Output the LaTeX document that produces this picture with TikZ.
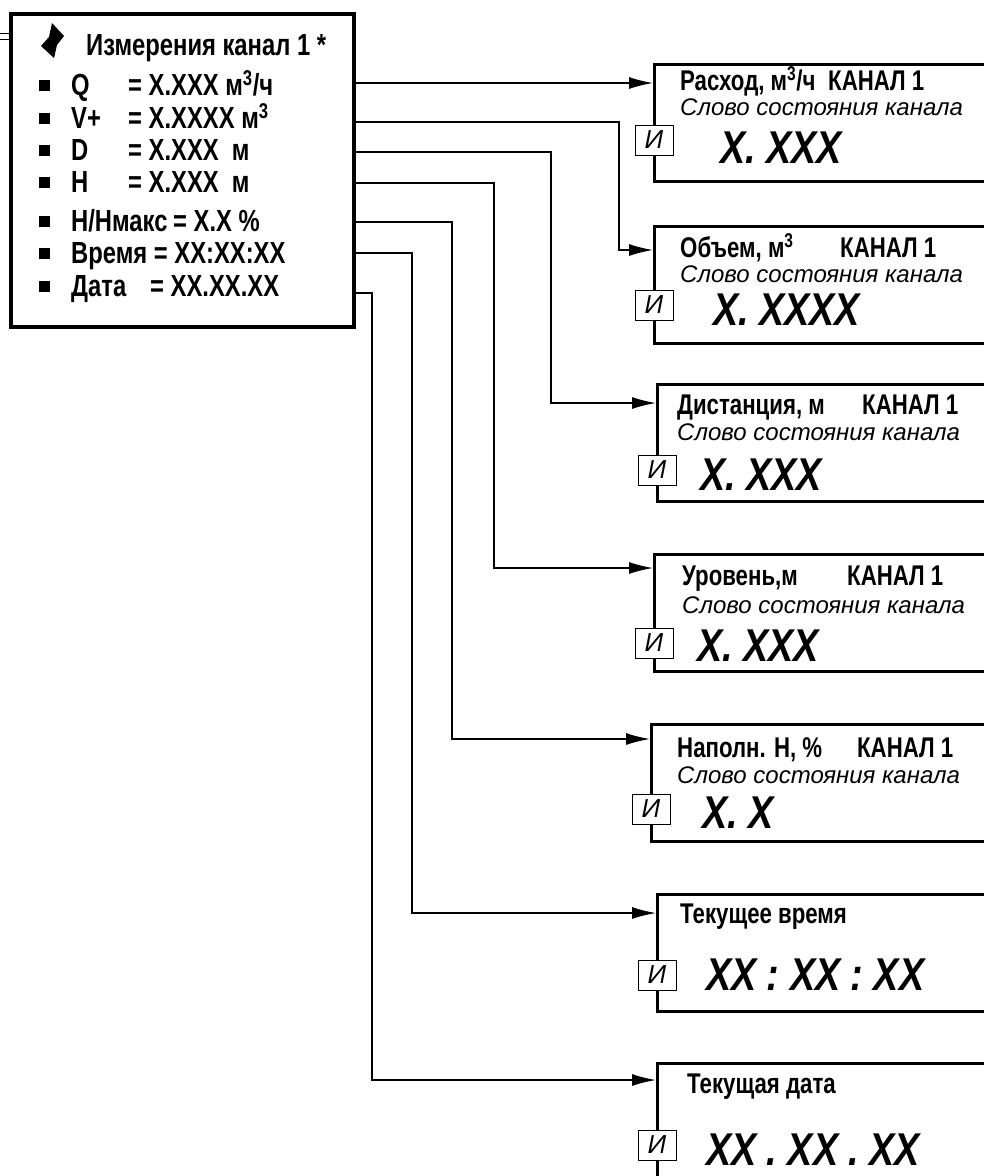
\documentclass[tikz,border=0pt]{standalone}
\usepackage{fontspec}
\setmainfont{Liberation Sans}
\newfontfamily\narrowfont{Liberation Sans}[FakeStretch=0.78]
\newfontfamily\valuefont{Liberation Sans}[FakeStretch=0.82]
\usetikzlibrary{arrows.meta,positioning}

\begin{document}
\begin{tikzpicture}[
    x=1pt, y=-1pt,
    menubox/.style={draw, line width=4pt, anchor=north west, minimum width=343pt, minimum height=313pt, inner sep=0pt},
    dispbox/.style={draw, line width=3pt, anchor=north west, minimum width=420pt, minimum height=117pt, inner sep=0pt},
    rowtext/.style={anchor=base west, inner sep=0pt, font=\narrowfont\bfseries\fontsize{30.5}{34}\selectfont},
    bullet/.style={fill, minimum size=11pt, inner sep=0pt},
    head/.style={anchor=base west, inner sep=0pt, font=\narrowfont\bfseries\fontsize{28.5}{32}\selectfont},
    status/.style={anchor=base west, inner sep=0pt, font=\itshape\fontsize{24}{28}\selectfont},
    value/.style={anchor=base west, inner sep=0pt, font=\valuefont\bfseries\itshape\fontsize{46}{50}\selectfont},
    ibox/.style={draw, fill=white, line width=1pt, minimum width=38pt, minimum height=30pt, inner sep=0pt, font=\itshape\fontsize{26}{30}\selectfont},
    arrow/.style={-{Latex[length=24pt,width=12pt]}, line width=1.5pt}
]
\clip (0,0) rectangle (984,1176);

% menu screen
\node[menubox] (menu) at (9,12) {};
\draw[line width=1pt] ([yshift=-21]menu.north west) -- ++(-15,0)
                      ([yshift=-27]menu.north west) -- ++(-15,0);
\fill (52,23) -- (64,36) -- (57,45) -- (54,58) -- (41,46) -- (49,37) -- cycle;
\node[rowtext] (title) at (86,55) {Измерения канал 1 *};
\node[rowtext] (rq) at (71,95) {\makebox[57pt][l]{Q}= X.XXX м\textsuperscript{3}/ч};
\node[rowtext] (rv) at (71,128) {\makebox[57pt][l]{V+}= X.XXXX м\textsuperscript{3}};
\node[rowtext] (rd) at (71,160) {\makebox[57pt][l]{D}= X.XXX\ \ м};
\node[rowtext] (rh) at (71,192) {\makebox[57pt][l]{H}= X.XXX\ \ м};
\node[rowtext] (rhh) at (71,231) {\makebox[102pt][l]{H/Hмакс}= X.X \%};
\node[rowtext] (rtime) at (71,263) {Время = XX:XX:XX};
\node[rowtext] (rdate) at (71,296) {\makebox[79pt][l]{Дата}= XX.XX.XX};
\foreach \r in {rq,rv,rd,rh,rhh,rtime,rdate}
    \node[bullet] (b\r) at ([xshift=-27pt, yshift=9.5pt]\r.base west) {};

% display screens
\node[dispbox] (dq) at (653,63) {};
\node[head] (dqh) at (680,90) {\makebox[148pt][l]{Расход, м\textsuperscript{3}/ч}КАНАЛ 1};
\node[status] (dqs) at (680,115) {Слово состояния канала};
\node[ibox] (dqi) at (654,140) {И};
\node[value] (dqv) at (720,163) {X. XXX};

\node[dispbox] (dv) at (653,225) {};
\node[head] (dvh) at (680,257) {\makebox[160pt][l]{Объем, м\textsuperscript{3}}КАНАЛ 1};
\node[status] (dvs) at (680,282) {Слово состояния канала};
\node[ibox] (dvi) at (654,305) {И};
\node[value] (dvv) at (713,325) {X. XXXX};

\node[dispbox] (dd) at (656,383) {};
\node[head] (ddh) at (677,414) {\makebox[185pt][l]{Дистанция, м}КАНАЛ 1};
\node[status] (dds) at (677,440) {Слово состояния канала};
\node[ibox] (ddi) at (657,470) {И};
\node[value] (ddv) at (700,490) {X. XXX};

\node[dispbox] (dh) at (653,553) {};
\node[head] (dhh) at (682,585) {\makebox[165pt][l]{Уровень,м}КАНАЛ 1};
\node[status] (dhs) at (682,613) {Слово состояния канала};
\node[ibox] (dhi) at (654,643) {И};
\node[value] (dhv) at (697,661) {X. XXX};

\node[dispbox] (dp) at (650,723) {};
\node[head] (dph) at (677,757) {\makebox[180pt][l]{Наполн. Н, \%}КАНАЛ 1};
\node[status] (dps) at (677,783) {Слово состояния канала};
\node[ibox] (dpi) at (651,809) {И};
\node[value] (dpv) at (702,828) {X. X};

\node[dispbox] (dtime) at (656,893) {};
\node[head] (dtimeh) at (680,923) {Текущее время};
\node[ibox] (dtimei) at (657,975) {И};
\node[value] (dtimev) at (706,990) {XX : XX : XX};

\node[dispbox] (ddate) at (656,1062) {};
\node[head] (ddateh) at (687,1093) {Текущая дата};
\node[ibox] (ddatei) at (657,1145) {И};
\node[value] (ddatev) at (706,1165) {XX . XX . XX};

% inputs of the screens
\coordinate (qin) at ([yshift=-20]dq.north west);
\coordinate (vin) at ([yshift=-25]dv.north west);
\coordinate (din) at ([yshift=-20]dd.north west);
\coordinate (hin) at ([yshift=-15]dh.north west);
\coordinate (pin) at ([yshift=-16]dp.north west);
\coordinate (tin) at ([yshift=-20]dtime.north west);
\coordinate (datein) at ([yshift=-18]ddate.north west);

% outputs of the menu rows
\coordinate (vout) at (menu.east |- rv.base);
\coordinate (dout) at (menu.east |- rd.base);
\coordinate (hout) at (menu.east |- rh.base);
\coordinate (pout) at (menu.east |- rhh.base);
\coordinate (tout) at (menu.east |- rtime.base);
\coordinate (dateout) at (menu.east |- rdate.base);

\draw[arrow] (menu.east |- qin) -- (qin);
\draw[arrow] ([yshift=6]vout) -- ++(263,0) |- (vin);
\draw[arrow] ([yshift=8]dout) -- ++(195,0) |- (din);
\draw[arrow] ([yshift=9]hout) -- ++(138,0) |- (hin);
\draw[arrow] ([yshift=9]pout) -- ++(96,0) |- (pin);
\draw[arrow] ([yshift=10]tout) -- ++(56,0) |- (tin);
\draw[arrow] ([yshift=3]dateout) -- ++(16,0) |- (datein);
\end{tikzpicture}
\end{document}
